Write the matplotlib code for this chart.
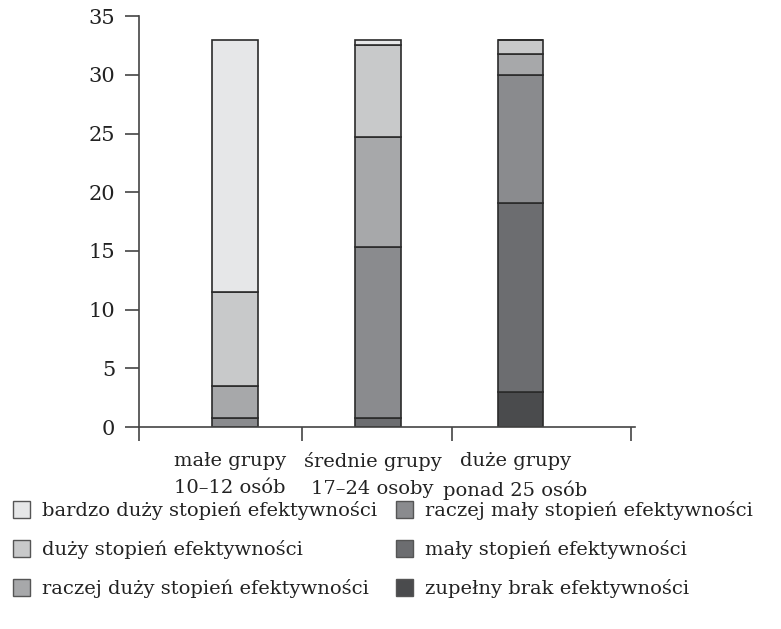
import numpy as np
import matplotlib
matplotlib.use("Agg")
import matplotlib.pyplot as plt
import matplotlib.transforms as mtransforms
from matplotlib.patches import Patch

plt.rcParams['font.family'] = ['DejaVu Serif']

# dane
groups = ["małe grupy\n10–12 osób", "średnie grupy\n17–24 osoby", "duże grupy\nponad 25 osób"]
levels = ["zupełny brak efektywności", "mały stopień efektywności",
          "raczej mały stopień efektywności", "raczej duży stopień efektywności",
          "duży stopień efektywności", "bardzo duży stopień efektywności"]
# wartości od dołu do góry słupka
zupelny_brak = [0.0, 0.0, 3.0]
maly = [0.0, 0.8, 16.1]
raczej_maly = [0.8, 14.5, 10.9]
raczej_duzy = [2.7, 9.4, 1.8]
duzy = [8.0, 7.8, 1.2]
bardzo_duzy = [21.5, 0.5, 0.0]
colors = ["#4a4b4d", "#6c6d70", "#8a8b8e", "#a7a8aa", "#c8c9ca", "#e6e7e8"]

series = [zupelny_brak, maly, raczej_maly, raczej_duzy, duzy, bardzo_duzy]

fig = plt.figure(figsize=(7.81, 6.29), dpi=100)
ax = fig.add_axes([0.178, 0.321, 0.635, 0.6534])

x = np.arange(len(groups))
bottom = np.zeros(len(groups))
for vals, col in zip(series, colors):
    ax.bar(x, vals, 0.32, bottom=bottom, color=col, edgecolor="#2b2b2b", linewidth=1.2)
    bottom += np.array(vals)

ax.set_xlim(-0.67, 2.8)
ax.set_ylim(0, 35)
ax.set_yticks(range(0, 36, 5))
ax.set_xticks(x)
ax.set_xticklabels(groups, fontsize=14, color="#222222", linespacing=1.65)
ax.tick_params(axis="x", length=0, pad=18)
shift = mtransforms.ScaledTranslation(-5 / 100, 0, fig.dpi_scale_trans)
for lab in ax.get_xticklabels():
    lab.set_transform(lab.get_transform() + shift)
ax.set_xticks([-0.67, 0.47, 1.52, 2.77], minor=True)
ax.tick_params(axis="x", which="minor", length=10, width=1.2, color="#444444", direction="out")
ax.tick_params(axis="y", length=10, width=1.2, color="#444444", labelsize=15,
               labelcolor="#222222", pad=7)

for s in ["top", "right"]:
    ax.spines[s].set_visible(False)
for s in ["left", "bottom"]:
    ax.spines[s].set_color("#444444")
    ax.spines[s].set_linewidth(1.2)

order = [5, 4, 3, 2, 1, 0]
handles = [Patch(facecolor=colors[i], edgecolor="#555555", linewidth=1.0) for i in order]
labels = [levels[i] for i in order]
fig.legend(handles, labels, ncol=2, loc="upper left", bbox_to_anchor=(-0.006, 0.231),
           frameon=False, fontsize=14, labelcolor="#222222", handlelength=0.9,
           handleheight=0.9, handletextpad=0.6, columnspacing=0.95, labelspacing=1.03)

fig.savefig("out.png", dpi=100)
